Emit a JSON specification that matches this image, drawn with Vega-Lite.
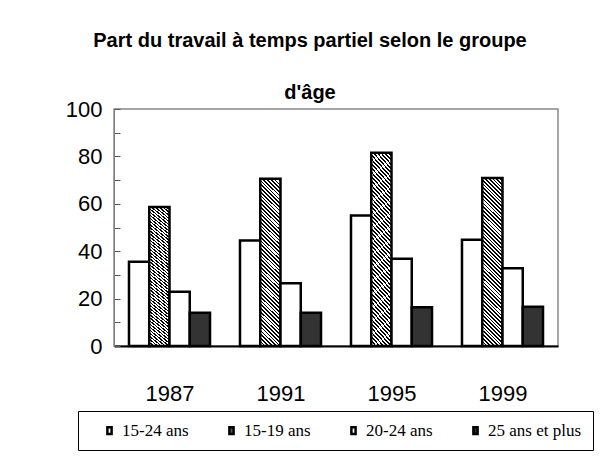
{
  "$schema": "https://vega.github.io/schema/vega-lite/v6.json",
  "autosize": "none",
  "width": 444,
  "height": 237,
  "padding": {"left": 114, "top": 109, "right": 55, "bottom": 119},
  "background": "white",
  "title": {
    "text": ["Part du travail à temps partiel selon le groupe", "d'âge"],
    "font": "Liberation Sans, Arial",
    "fontSize": 20,
    "fontWeight": "bold",
    "lineHeight": 52,
    "anchor": "middle",
    "dx": -26,
    "offset": -25,
    "color": "black",
    "baseline": "bottom"
  },
  "data": {
    "values": [
      {"year": "1987", "group": "15-24 ans", "value": 35.6},
      {"year": "1987", "group": "15-19 ans", "value": 58.6},
      {"year": "1987", "group": "20-24 ans", "value": 22.9},
      {"year": "1987", "group": "25 ans et plus", "value": 14.0},
      {"year": "1991", "group": "15-24 ans", "value": 44.5},
      {"year": "1991", "group": "15-19 ans", "value": 70.6},
      {"year": "1991", "group": "20-24 ans", "value": 26.5},
      {"year": "1991", "group": "25 ans et plus", "value": 14.0},
      {"year": "1995", "group": "15-24 ans", "value": 55.1},
      {"year": "1995", "group": "15-19 ans", "value": 81.5},
      {"year": "1995", "group": "20-24 ans", "value": 36.8},
      {"year": "1995", "group": "25 ans et plus", "value": 16.3},
      {"year": "1999", "group": "15-24 ans", "value": 44.8},
      {"year": "1999", "group": "15-19 ans", "value": 70.9},
      {"year": "1999", "group": "20-24 ans", "value": 32.8},
      {"year": "1999", "group": "25 ans et plus", "value": 16.6}
    ]
  },
  "mark": {"type": "bar", "stroke": "black", "strokeWidth": 2.5, "strokeJoin": "miter"},
  "encoding": {
    "x": {
      "field": "year",
      "type": "nominal",
      "scale": {"paddingInner": 0.27, "paddingOuter": 0.135},
      "axis": {
        "title": null,
        "labelAngle": 0,
        "tickBand": "extent",
        "tickSize": -8,
        "tickColor": "#555",
        "domainColor": "black",
        "domainWidth": 2,
        "labelPadding": 45,
        "labelFontSize": 22,
        "labelFont": "Liberation Sans, Arial",
        "labelColor": "black",
        "labelBaseline": "top"
      }
    },
    "xOffset": {
      "field": "group",
      "type": "nominal",
      "sort": ["15-24 ans", "15-19 ans", "20-24 ans", "25 ans et plus"],
      "scale": {"paddingInner": 0, "paddingOuter": 0}
    },
    "y": {
      "field": "value",
      "type": "quantitative",
      "scale": {"domain": [0, 100], "nice": false},
      "axis": {
        "title": null,
        "values": [0, 10, 20, 30, 40, 50, 60, 70, 80, 90, 100],
        "labelExpr": "datum.value % 20 === 0 ? datum.label : ''",
        "labelOverlap": false,
        "grid": false,
        "tickSize": -6,
        "tickColor": "#555",
        "domainColor": "#808080",
        "labelPadding": 18,
        "labelFontSize": 22,
        "labelFont": "Liberation Sans, Arial",
        "labelColor": "black"
      }
    },
    "fill": {
      "condition": {
        "test": "datum.group === '15-19 ans'",
        "value": {
          "gradient": "linear",
          "x1": 0, "y1": 1, "x2": 0.1325, "y2": -0.104,
          "stops": [
            {"offset": 0.00, "color": "#000"}, {"offset": 0.009, "color": "#000"}, {"offset": 0.009, "color": "#fff"}, {"offset": 0.02, "color": "#fff"},
            {"offset": 0.02, "color": "#000"}, {"offset": 0.029, "color": "#000"}, {"offset": 0.029, "color": "#fff"}, {"offset": 0.04, "color": "#fff"},
            {"offset": 0.04, "color": "#000"}, {"offset": 0.049, "color": "#000"}, {"offset": 0.049, "color": "#fff"}, {"offset": 0.06, "color": "#fff"},
            {"offset": 0.06, "color": "#000"}, {"offset": 0.069, "color": "#000"}, {"offset": 0.069, "color": "#fff"}, {"offset": 0.08, "color": "#fff"},
            {"offset": 0.08, "color": "#000"}, {"offset": 0.089, "color": "#000"}, {"offset": 0.089, "color": "#fff"}, {"offset": 0.10, "color": "#fff"},
            {"offset": 0.10, "color": "#000"}, {"offset": 0.109, "color": "#000"}, {"offset": 0.109, "color": "#fff"}, {"offset": 0.12, "color": "#fff"},
            {"offset": 0.12, "color": "#000"}, {"offset": 0.129, "color": "#000"}, {"offset": 0.129, "color": "#fff"}, {"offset": 0.14, "color": "#fff"},
            {"offset": 0.14, "color": "#000"}, {"offset": 0.149, "color": "#000"}, {"offset": 0.149, "color": "#fff"}, {"offset": 0.16, "color": "#fff"},
            {"offset": 0.16, "color": "#000"}, {"offset": 0.169, "color": "#000"}, {"offset": 0.169, "color": "#fff"}, {"offset": 0.18, "color": "#fff"},
            {"offset": 0.18, "color": "#000"}, {"offset": 0.189, "color": "#000"}, {"offset": 0.189, "color": "#fff"}, {"offset": 0.20, "color": "#fff"},
            {"offset": 0.20, "color": "#000"}, {"offset": 0.209, "color": "#000"}, {"offset": 0.209, "color": "#fff"}, {"offset": 0.22, "color": "#fff"},
            {"offset": 0.22, "color": "#000"}, {"offset": 0.229, "color": "#000"}, {"offset": 0.229, "color": "#fff"}, {"offset": 0.24, "color": "#fff"},
            {"offset": 0.24, "color": "#000"}, {"offset": 0.249, "color": "#000"}, {"offset": 0.249, "color": "#fff"}, {"offset": 0.26, "color": "#fff"},
            {"offset": 0.26, "color": "#000"}, {"offset": 0.269, "color": "#000"}, {"offset": 0.269, "color": "#fff"}, {"offset": 0.28, "color": "#fff"},
            {"offset": 0.28, "color": "#000"}, {"offset": 0.289, "color": "#000"}, {"offset": 0.289, "color": "#fff"}, {"offset": 0.30, "color": "#fff"},
            {"offset": 0.30, "color": "#000"}, {"offset": 0.309, "color": "#000"}, {"offset": 0.309, "color": "#fff"}, {"offset": 0.32, "color": "#fff"},
            {"offset": 0.32, "color": "#000"}, {"offset": 0.329, "color": "#000"}, {"offset": 0.329, "color": "#fff"}, {"offset": 0.34, "color": "#fff"},
            {"offset": 0.34, "color": "#000"}, {"offset": 0.349, "color": "#000"}, {"offset": 0.349, "color": "#fff"}, {"offset": 0.36, "color": "#fff"},
            {"offset": 0.36, "color": "#000"}, {"offset": 0.369, "color": "#000"}, {"offset": 0.369, "color": "#fff"}, {"offset": 0.38, "color": "#fff"},
            {"offset": 0.38, "color": "#000"}, {"offset": 0.389, "color": "#000"}, {"offset": 0.389, "color": "#fff"}, {"offset": 0.40, "color": "#fff"},
            {"offset": 0.40, "color": "#000"}, {"offset": 0.409, "color": "#000"}, {"offset": 0.409, "color": "#fff"}, {"offset": 0.42, "color": "#fff"},
            {"offset": 0.42, "color": "#000"}, {"offset": 0.429, "color": "#000"}, {"offset": 0.429, "color": "#fff"}, {"offset": 0.44, "color": "#fff"},
            {"offset": 0.44, "color": "#000"}, {"offset": 0.449, "color": "#000"}, {"offset": 0.449, "color": "#fff"}, {"offset": 0.46, "color": "#fff"},
            {"offset": 0.46, "color": "#000"}, {"offset": 0.469, "color": "#000"}, {"offset": 0.469, "color": "#fff"}, {"offset": 0.48, "color": "#fff"},
            {"offset": 0.48, "color": "#000"}, {"offset": 0.489, "color": "#000"}, {"offset": 0.489, "color": "#fff"}, {"offset": 0.50, "color": "#fff"},
            {"offset": 0.50, "color": "#000"}, {"offset": 0.509, "color": "#000"}, {"offset": 0.509, "color": "#fff"}, {"offset": 0.52, "color": "#fff"},
            {"offset": 0.52, "color": "#000"}, {"offset": 0.529, "color": "#000"}, {"offset": 0.529, "color": "#fff"}, {"offset": 0.54, "color": "#fff"},
            {"offset": 0.54, "color": "#000"}, {"offset": 0.549, "color": "#000"}, {"offset": 0.549, "color": "#fff"}, {"offset": 0.56, "color": "#fff"},
            {"offset": 0.56, "color": "#000"}, {"offset": 0.569, "color": "#000"}, {"offset": 0.569, "color": "#fff"}, {"offset": 0.58, "color": "#fff"},
            {"offset": 0.58, "color": "#000"}, {"offset": 0.589, "color": "#000"}, {"offset": 0.589, "color": "#fff"}, {"offset": 0.60, "color": "#fff"},
            {"offset": 0.60, "color": "#000"}, {"offset": 0.609, "color": "#000"}, {"offset": 0.609, "color": "#fff"}, {"offset": 0.62, "color": "#fff"},
            {"offset": 0.62, "color": "#000"}, {"offset": 0.629, "color": "#000"}, {"offset": 0.629, "color": "#fff"}, {"offset": 0.64, "color": "#fff"},
            {"offset": 0.64, "color": "#000"}, {"offset": 0.649, "color": "#000"}, {"offset": 0.649, "color": "#fff"}, {"offset": 0.66, "color": "#fff"},
            {"offset": 0.66, "color": "#000"}, {"offset": 0.669, "color": "#000"}, {"offset": 0.669, "color": "#fff"}, {"offset": 0.68, "color": "#fff"},
            {"offset": 0.68, "color": "#000"}, {"offset": 0.689, "color": "#000"}, {"offset": 0.689, "color": "#fff"}, {"offset": 0.70, "color": "#fff"},
            {"offset": 0.70, "color": "#000"}, {"offset": 0.709, "color": "#000"}, {"offset": 0.709, "color": "#fff"}, {"offset": 0.72, "color": "#fff"},
            {"offset": 0.72, "color": "#000"}, {"offset": 0.729, "color": "#000"}, {"offset": 0.729, "color": "#fff"}, {"offset": 0.74, "color": "#fff"},
            {"offset": 0.74, "color": "#000"}, {"offset": 0.749, "color": "#000"}, {"offset": 0.749, "color": "#fff"}, {"offset": 0.76, "color": "#fff"},
            {"offset": 0.76, "color": "#000"}, {"offset": 0.769, "color": "#000"}, {"offset": 0.769, "color": "#fff"}, {"offset": 0.78, "color": "#fff"},
            {"offset": 0.78, "color": "#000"}, {"offset": 0.789, "color": "#000"}, {"offset": 0.789, "color": "#fff"}, {"offset": 0.80, "color": "#fff"},
            {"offset": 0.80, "color": "#000"}, {"offset": 0.809, "color": "#000"}, {"offset": 0.809, "color": "#fff"}, {"offset": 0.82, "color": "#fff"},
            {"offset": 0.82, "color": "#000"}, {"offset": 0.829, "color": "#000"}, {"offset": 0.829, "color": "#fff"}, {"offset": 0.84, "color": "#fff"},
            {"offset": 0.84, "color": "#000"}, {"offset": 0.849, "color": "#000"}, {"offset": 0.849, "color": "#fff"}, {"offset": 0.86, "color": "#fff"},
            {"offset": 0.86, "color": "#000"}, {"offset": 0.869, "color": "#000"}, {"offset": 0.869, "color": "#fff"}, {"offset": 0.88, "color": "#fff"},
            {"offset": 0.88, "color": "#000"}, {"offset": 0.889, "color": "#000"}, {"offset": 0.889, "color": "#fff"}, {"offset": 0.90, "color": "#fff"},
            {"offset": 0.90, "color": "#000"}, {"offset": 0.909, "color": "#000"}, {"offset": 0.909, "color": "#fff"}, {"offset": 0.92, "color": "#fff"},
            {"offset": 0.92, "color": "#000"}, {"offset": 0.929, "color": "#000"}, {"offset": 0.929, "color": "#fff"}, {"offset": 0.94, "color": "#fff"},
            {"offset": 0.94, "color": "#000"}, {"offset": 0.949, "color": "#000"}, {"offset": 0.949, "color": "#fff"}, {"offset": 0.96, "color": "#fff"},
            {"offset": 0.96, "color": "#000"}, {"offset": 0.969, "color": "#000"}, {"offset": 0.969, "color": "#fff"}, {"offset": 0.98, "color": "#fff"},
            {"offset": 0.98, "color": "#000"}, {"offset": 0.989, "color": "#000"}, {"offset": 0.989, "color": "#fff"}, {"offset": 1.0, "color": "#fff"}
          ]
        }
      },
      "field": "group",
      "type": "nominal",
      "scale": {
        "domain": ["15-24 ans", "15-19 ans", "20-24 ans", "25 ans et plus"],
        "range": ["white", "#555", "white", "#333"]
      },
      "legend": {
        "title": null,
        "orient": "none",
        "legendX": -36,
        "legendY": 302,
        "direction": "horizontal",
        "columns": 4,
        "gridAlign": "each",
        "strokeColor": "black",
        "padding": 11,
        "columnPadding": 22,
        "symbolType": "M-0.35,-0.55H0.35V0.55H-0.35Z",
        "symbolSize": 144,
        "symbolStrokeColor": "black",
        "symbolStrokeWidth": 2.5,
        "symbolOffset": 12,
        "labelFont": "Liberation Serif",
        "labelFontSize": 17,
        "labelColor": "black",
        "labelOffset": 4,
        "encode": {
          "symbols": {
            "update": {
              "fill": {"scale": "fill", "field": "value"},
              "stroke": {"value": "black"},
              "strokeWidth": {"value": 2.5}
            }
          }
        }
      }
    }
  },
  "config": {
    "view": {"stroke": "#888", "strokeWidth": 1.5}
  }
}
